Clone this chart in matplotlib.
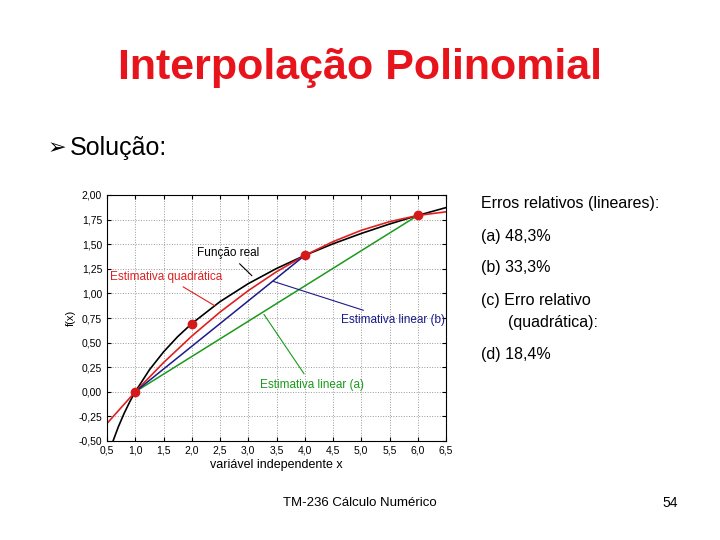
import matplotlib
matplotlib.use("Agg")
import matplotlib.pyplot as plt
import numpy as np

x_real = [0.6, 0.7, 0.8, 0.9, 1.0, 1.25, 1.5, 1.75, 2.0, 2.5, 3.0, 3.5, 4.0, 4.5, 5.0, 5.5, 6.0, 6.5]
y_real = [-0.511, -0.357, -0.223, -0.105, 0.0, 0.223, 0.405, 0.560, 0.693, 0.916, 1.099, 1.253, 1.386, 1.504, 1.609, 1.705, 1.792, 1.872]
x_quad = [0.5, 1.0, 1.5, 2.0, 2.5, 3.0, 3.5, 4.0, 4.5, 5.0, 5.5, 6.0, 6.5]
y_quad = [-0.322, 0.0, 0.296, 0.566, 0.810, 1.028, 1.220, 1.386, 1.526, 1.641, 1.729, 1.792, 1.829]
x_pts = [1.0, 2.0, 4.0, 6.0]
y_pts = [0.0, 0.693, 1.386, 1.792]
lin_a_x = [1.0, 6.0]; lin_a_y = [0.0, 1.792]
lin_b_x = [1.0, 4.0]; lin_b_y = [0.0, 1.386]
xticks = [0.5,1.0,1.5,2.0,2.5,3.0,3.5,4.0,4.5,5.0,5.5,6.0,6.5]
yticks = [-0.5,-0.25,0,0.25,0.5,0.75,1.0,1.25,1.5,1.75,2.0]

LS = "Liberation Sans"
fig = plt.figure(figsize=(7.2,5.4), dpi=100)
fig.text(360/720, 1-68/540, "Interpolação Polinomial", color="#e8141c", fontsize=31, weight="bold", ha="center", va="center", family=LS)
fig.text(48/720, 1-148/540, "➢", fontsize=16, va="center", family="DejaVu Sans")
fig.text(70/720, 1-148/540, "Solução:", fontsize=18, va="center", family=LS)

ax = fig.add_axes([107/720, 1-441/540, 339/720, 246/540])
ax.plot(x_real, y_real, color="black", lw=1.2)
ax.plot(x_quad, y_quad, color="#e02020", lw=1.2)
ax.plot(lin_a_x, lin_a_y, color="#1a9a1a", lw=1.1)
ax.plot(lin_b_x, lin_b_y, color="#1a1a8a", lw=1.1)
ax.plot(x_pts, y_pts, "o", color="#d41a1a", ms=6)
ax.set_xlim(0.5,6.5); ax.set_ylim(-0.5,2.0)
ax.set_xticks(xticks); ax.set_yticks(yticks)
ax.set_xticklabels([f"{v:.1f}".replace(".",",") for v in xticks], fontsize=7.5, family=LS)
ax.set_yticklabels([f"{v:.2f}".replace(".",",") for v in yticks], fontsize=7.5, family=LS)
ax.grid(True, ls=":", color="#999999", lw=0.7)
ax.tick_params(direction="in", length=3, top=True, right=True)
ax.set_xlabel("variável independente x", fontsize=9, labelpad=2, family=LS)
ax.set_ylabel("f(x)", fontsize=8, labelpad=2, family=LS)
ax.annotate("Função real", xy=(3.1,1.16), xytext=(2.1,1.38), fontsize=8.5, color="black", family=LS,
            arrowprops=dict(arrowstyle="-", color="black", lw=0.8))
ax.annotate("Estimativa quadrática", xy=(2.45,0.86), xytext=(0.55,1.14), fontsize=8.5, color="#e02020", family=LS,
            arrowprops=dict(arrowstyle="-", color="#e02020", lw=0.8))
ax.annotate("Estimativa linear (b)", xy=(3.4,1.13), xytext=(4.65,0.70), fontsize=8.5, color="#1a1a8a", family=LS,
            arrowprops=dict(arrowstyle="-", color="#1a1a8a", lw=0.8))
ax.annotate("Estimativa linear (a)", xy=(3.25,0.81), xytext=(3.2,0.04), fontsize=8.5, color="#1a9a1a", family=LS,
            arrowprops=dict(arrowstyle="-", color="#1a9a1a", lw=0.8))

rt = [("Erros relativos (lineares):",203),("(a) 48,3%",237),("(b) 33,3%",268),
      ("(c) Erro relativo",300),("      (quadrática):",323),("(d) 18,4%",354)]
for t,y in rt:
    fig.text(481/720, 1-y/540, t, fontsize=11.5, va="center", family=LS)
fig.text(360/720, 1-503/540, "TM-236 Cálculo Numérico", fontsize=9.5, ha="center", va="center", family=LS)
fig.text(670/720, 1-503/540, "54", fontsize=10, ha="center", va="center", family=LS)
fig.savefig("out.png", dpi=100)
